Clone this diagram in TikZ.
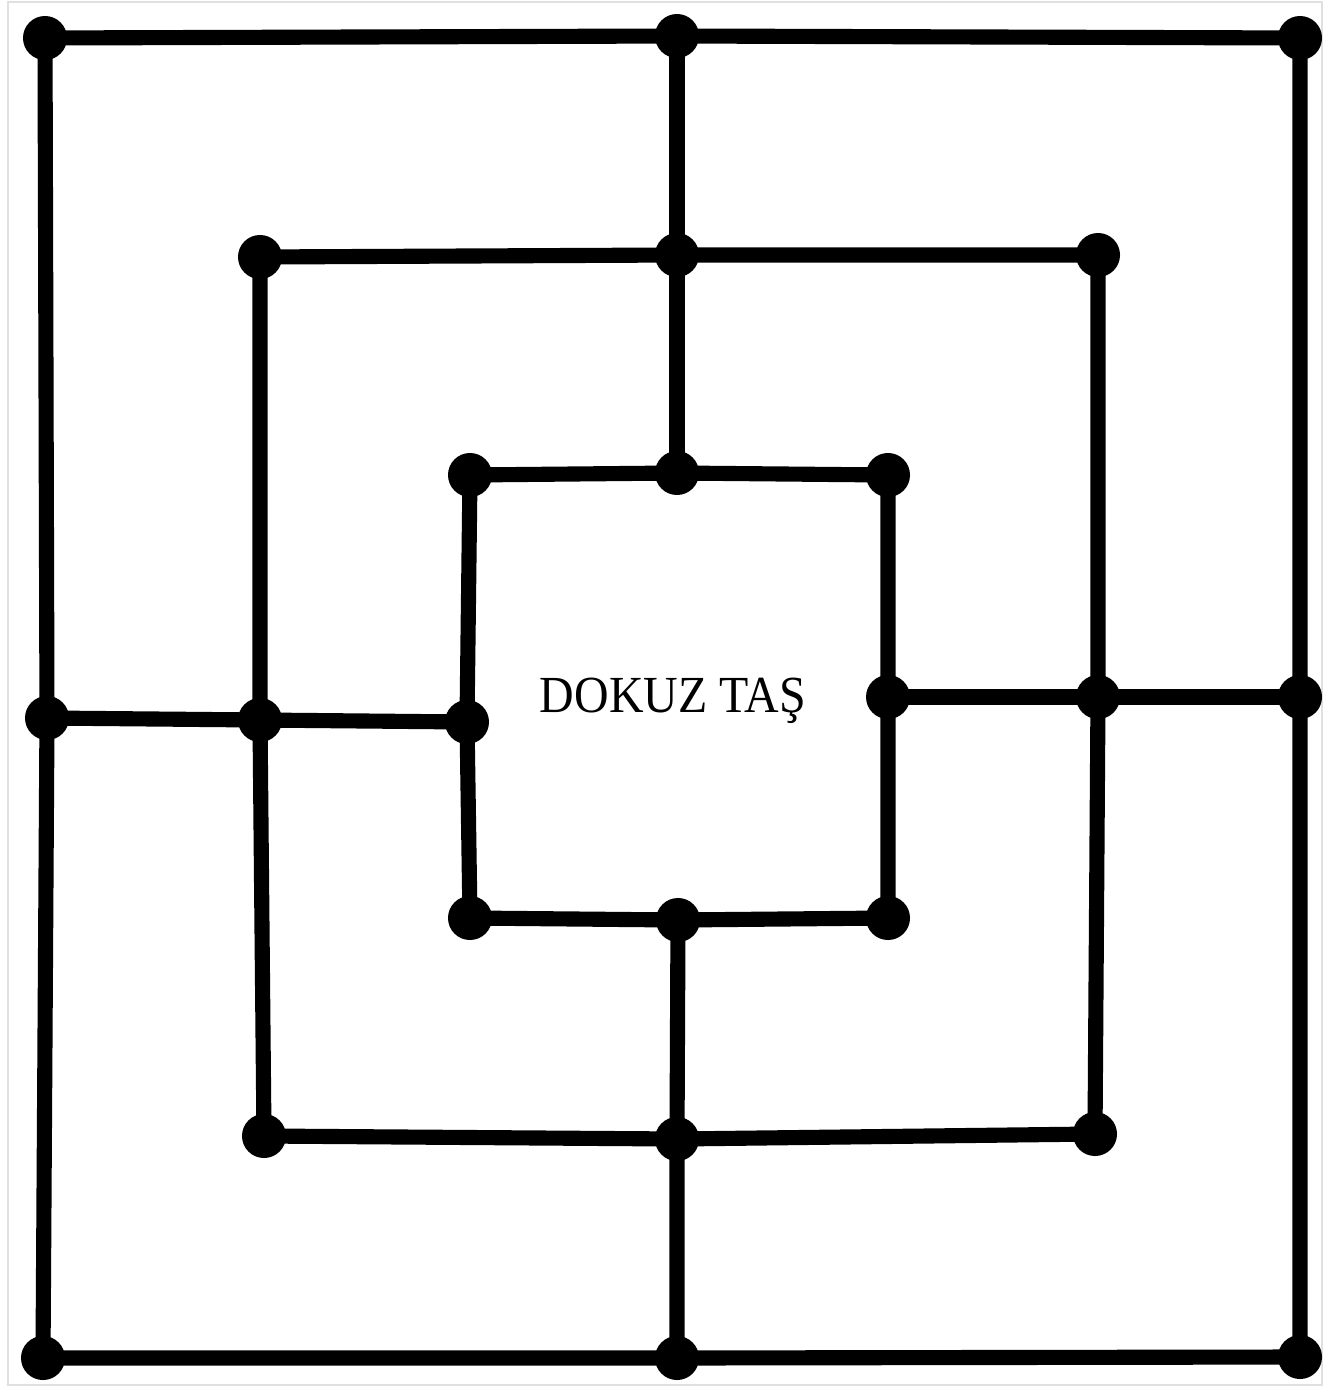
\documentclass[tikz,border=0pt]{standalone}
\usepackage{fontspec}
\setmainfont{Liberation Serif}
\usepackage{tikz}

\begin{document}
\begin{tikzpicture}[x=0.01cm, y=-0.01cm,
 pt/.style={circle,fill=black,inner sep=0pt,minimum size=0.44cm},
 ln/.style={line width=4.3pt,line join=round},
 frame/.style={draw=black!12,line width=0.6pt}]
\useasboundingbox (0,0) rectangle (1336,1388);
\draw[frame] (8,2) rectangle (1322,1385);
% outer square
\node[pt] (otl) at (45,38) {};
\node[pt] (otm) at (677,36) {};
\node[pt] (otr) at (1300,38) {};
\node[pt] (oml) at (47,718) {};
\node[pt] (omr) at (1300,697) {};
\node[pt] (obl) at (43,1358) {};
\node[pt] (obm) at (677,1358) {};
\node[pt] (obr) at (1300,1357) {};
% middle square
\node[pt] (mtl) at (260,257) {};
\node[pt] (mtm) at (677,255) {};
\node[pt] (mtr) at (1098,255) {};
\node[pt] (mml) at (260,720) {};
\node[pt] (mmr) at (1098,697) {};
\node[pt] (mbl) at (264,1136) {};
\node[pt] (mbm) at (677,1139) {};
\node[pt] (mbr) at (1095,1134) {};
% inner square
\node[pt] (itl) at (470,475) {};
\node[pt] (itm) at (677,473) {};
\node[pt] (itr) at (888,475) {};
\node[pt] (iml) at (467,722) {};
\node[pt] (imr) at (888,697) {};
\node[pt] (ibl) at (470,918) {};
\node[pt] (ibm) at (678,920) {};
\node[pt] (ibr) at (888,918) {};
\foreach \s in {o,m,i}
 \draw[ln] (\s tl.center)--(\s tm.center)--(\s tr.center)--(\s mr.center)--(\s br.center)--(\s bm.center)--(\s bl.center)--(\s ml.center)--cycle;
\draw[ln] (otm.center)--(mtm.center)--(itm.center);
\draw[ln] (ibm.center)--(mbm.center)--(obm.center);
\draw[ln] (oml.center)--(mml.center)--(iml.center);
\draw[ln] (imr.center)--(mmr.center)--(omr.center);
\node[anchor=base,inner sep=0pt,xscale=0.92,font=\fontsize{14.8}{16}\selectfont] (title) at (673,712) {DOKUZ TAŞ};
\end{tikzpicture}
\end{document}
